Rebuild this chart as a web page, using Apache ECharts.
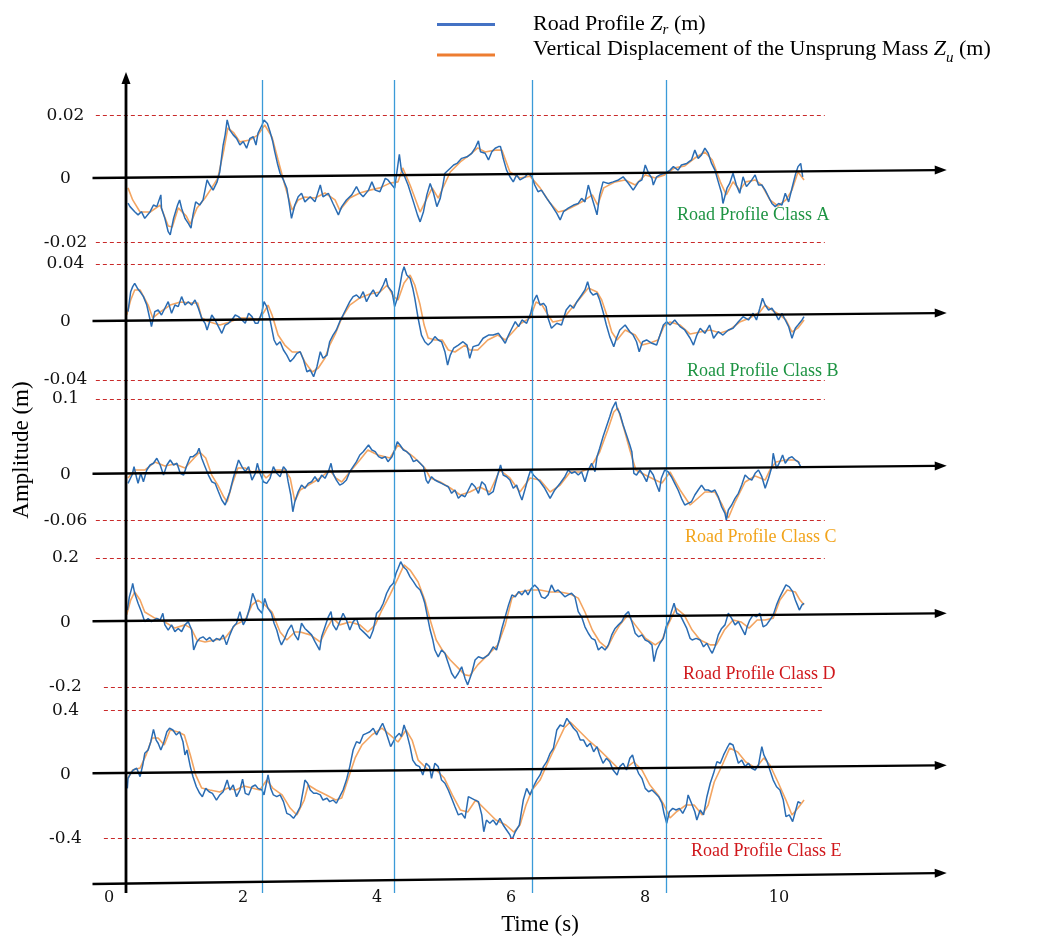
<!DOCTYPE html>
<html><head><meta charset="utf-8">
<script src="https://cdn.jsdelivr.net/npm/echarts@6.0.0/dist/echarts.min.js"></script>
<style>html,body{margin:0;padding:0;background:#fff}#c{width:1040px;height:938px}</style>
</head><body><div id="c"></div>
<script>
// ---------------- DATA (time in s, amplitude in m) ----------------
const roadA = [[0.03,-0.0076],[0.06,-0.0087],[0.13,-0.0103],[0.18,-0.0113],[0.23,-0.0103],[0.28,-0.0124],[0.36,-0.0103],[0.41,-0.0082],[0.46,-0.0087],[0.52,-0.005],[0.53,-0.0092],[0.58,-0.0124],[0.63,-0.0166],[0.66,-0.0176],[0.71,-0.0124],[0.77,-0.0082],[0.80,-0.0066],[0.83,-0.0092],[0.88,-0.0124],[0.93,-0.014],[0.97,-0.0155],[1.00,-0.0113],[1.04,-0.0072],[1.10,-0.0082],[1.15,-0.0066],[1.21,-0.0003],[1.25,-0.0019],[1.30,-0.0035],[1.36,-0.0009],[1.40,0.0023],[1.45,0.0107],[1.48,0.0139],[1.51,0.0186],[1.55,0.0154],[1.60,0.0139],[1.65,0.0128],[1.70,0.0107],[1.75,0.0118],[1.80,0.0097],[1.85,0.0128],[1.90,0.0133],[1.94,0.0107],[1.97,0.0144],[2.03,0.017],[2.06,0.0186],[2.11,0.0175],[2.15,0.0149],[2.19,0.0118],[2.22,0.0086],[2.26,0.0049],[2.30,0.0018],[2.35,-0.0003],[2.40,-0.0029],[2.44,-0.0082],[2.47,-0.0124],[2.52,-0.0082],[2.57,-0.0056],[2.62,-0.0045],[2.67,-0.0072],[2.75,-0.0056],[2.82,-0.0072],[2.90,-0.0019],[2.94,-0.0056],[3.02,-0.0045],[3.09,-0.0077],[3.17,-0.0113],[3.22,-0.0087],[3.29,-0.0066],[3.37,-0.005],[3.44,-0.0024],[3.49,-0.0045],[3.54,-0.0056],[3.62,-0.0035],[3.67,-0.0009],[3.72,-0.0035],[3.79,-0.004],[3.87,0.0002],[3.91,-0.0003],[3.97,-0.0019],[4.01,-0.0029],[4.08,0.0078],[4.11,0.0028],[4.16,0.0007],[4.21,-0.0019],[4.29,-0.0072],[4.35,-0.0113],[4.39,-0.0135],[4.44,-0.0103],[4.49,-0.005],[4.54,-0.0014],[4.59,-0.0045],[4.64,-0.0087],[4.69,-0.0061],[4.73,-0.0019],[4.76,0.0018],[4.84,0.0034],[4.89,0.0044],[4.94,0.0049],[5.01,0.0065],[5.09,0.007],[5.16,0.0081],[5.21,0.0097],[5.26,0.012],[5.29,0.0086],[5.36,0.0081],[5.41,0.006],[5.46,0.0086],[5.51,0.0097],[5.56,0.0102],[5.59,0.0102],[5.63,0.0065],[5.68,0.0028],[5.73,0.0007],[5.78,-0.0009],[5.83,0.0013],[5.88,-0.0003],[5.96,0.0007],[6.00,0.0018],[6.06,0.0007],[6.10,-0.0019],[6.15,-0.004],[6.20,-0.0035],[6.28,-0.0061],[6.35,-0.0082],[6.43,-0.0108],[6.48,-0.0129],[6.53,-0.0103],[6.60,-0.0092],[6.68,-0.0082],[6.75,-0.0077],[6.80,-0.0061],[6.85,-0.0072],[6.90,-0.0019],[6.95,-0.0056],[7.03,-0.0113],[7.07,-0.005],[7.12,-0.0009],[7.20,-0.0014],[7.27,-0.0009],[7.35,-0.0003],[7.42,0.0007],[7.50,-0.0014],[7.57,-0.0035],[7.65,-0.0009],[7.70,-0.0003],[7.75,0.0044],[7.80,0.0018],[7.85,0.0002],[7.87,-0.0019],[7.92,0.0007],[7.97,0.0013],[8.04,0.0018],[8.12,0.0028],[8.17,0.0039],[8.24,0.0028],[8.29,0.0044],[8.37,0.0049],[8.44,0.006],[8.49,0.0091],[8.54,0.0065],[8.59,0.0076],[8.64,0.0097],[8.69,0.0081],[8.74,0.0049],[8.79,0.0028],[8.84,-0.0009],[8.89,-0.0045],[8.91,-0.0077],[8.97,-0.0029],[9.01,-0.0014],[9.06,0.0018],[9.11,-0.0019],[9.16,-0.0045],[9.21,0.0007],[9.26,-0.0024],[9.34,-0.0003],[9.39,0.0013],[9.44,-0.0019],[9.49,-0.0019],[9.54,-0.0035],[9.59,-0.0056],[9.64,-0.0077],[9.69,-0.0087],[9.74,-0.0077],[9.79,-0.0082],[9.84,-0.0045],[9.89,-0.0072],[9.94,-0.0029],[9.99,0.0013],[10.03,0.0039],[10.07,0.0049],[10.10,0.0007]];
const unsprungA = [[0.03,-0.0028],[0.10,-0.0066],[0.21,-0.0104],[0.36,-0.0104],[0.51,-0.0082],[0.63,-0.0148],[0.69,-0.0151],[0.78,-0.0091],[0.90,-0.0117],[0.96,-0.0142],[1.06,-0.0091],[1.18,-0.006],[1.28,-0.0028],[1.37,0.0003],[1.46,0.0091],[1.52,0.0161],[1.61,0.0145],[1.70,0.0117],[1.85,0.0123],[1.97,0.0139],[2.07,0.017],[2.18,0.0132],[2.27,0.006],[2.37,-0.0019],[2.48,-0.0098],[2.57,-0.0066],[2.67,-0.0057],[2.82,-0.006],[2.97,-0.0044],[3.12,-0.0066],[3.19,-0.0098],[3.34,-0.006],[3.49,-0.0044],[3.64,-0.0035],[3.79,-0.0028],[3.94,-0.0013],[4.06,-0.0009],[4.13,0.0035],[4.24,-0.0019],[4.39,-0.0104],[4.48,-0.0066],[4.57,-0.0028],[4.66,-0.006],[4.75,-0.0019],[4.84,0.0022],[4.99,0.0054],[5.13,0.0076],[5.25,0.0098],[5.36,0.0085],[5.51,0.0091],[5.61,0.0091],[5.73,0.0022],[5.88,0.0003],[6.03,0.0009],[6.18,-0.0028],[6.33,-0.0076],[6.45,-0.0104],[6.57,-0.0098],[6.72,-0.0082],[6.85,-0.0066],[6.96,-0.005],[7.04,-0.0082],[7.13,-0.0028],[7.30,-0.0009],[7.45,-0.0003],[7.60,-0.0019],[7.75,0.0013],[7.90,0.0003],[8.04,0.0013],[8.19,0.0035],[8.34,0.0041],[8.49,0.0066],[8.64,0.0085],[8.75,0.006],[8.87,-0.0009],[8.96,-0.005],[9.06,-0.0009],[9.16,-0.0035],[9.25,-0.0009],[9.39,-0.0003],[9.49,-0.0019],[9.61,-0.0066],[9.73,-0.0085],[9.85,-0.0066],[9.94,-0.0035],[10.03,0.0022],[10.12,-0.0003]];

const roadB = [[0.03,0.0071],[0.07,0.0209],[0.10,0.0244],[0.13,0.0267],[0.17,0.0233],[0.21,0.0209],[0.26,0.0175],[0.31,0.0117],[0.36,0.0014],[0.38,-0.0032],[0.43,0.0071],[0.48,0.0083],[0.53,0.0048],[0.58,0.0095],[0.63,0.014],[0.68,0.006],[0.73,0.0117],[0.78,0.0106],[0.83,0.0175],[0.88,0.0117],[0.93,0.014],[0.98,0.0117],[1.03,0.0152],[1.08,0.0095],[1.13,0.0026],[1.18,-0.0009],[1.21,-0.0055],[1.28,0.0048],[1.33,0.0014],[1.38,-0.0032],[1.43,-0.0078],[1.48,-0.0021],[1.53,-0.0009],[1.58,0.0014],[1.63,0.0048],[1.68,0.0037],[1.73,0.0014],[1.78,-0.0009],[1.83,0.006],[1.88,0.0037],[1.93,-0.0009],[1.97,-0.0009],[2.03,0.0071],[2.06,0.014],[2.10,0.0106],[2.14,0.0037],[2.17,-0.0032],[2.21,-0.0124],[2.25,-0.0159],[2.30,-0.0136],[2.35,-0.0193],[2.40,-0.0228],[2.45,-0.0274],[2.50,-0.025],[2.55,-0.0216],[2.60,-0.0205],[2.65,-0.0262],[2.70,-0.0343],[2.75,-0.0331],[2.80,-0.0377],[2.85,-0.0308],[2.90,-0.0205],[2.94,-0.025],[3.00,-0.0228],[3.04,-0.0136],[3.09,-0.009],[3.14,-0.0055],[3.19,0.0002],[3.24,0.0048],[3.29,0.0095],[3.34,0.014],[3.39,0.0175],[3.44,0.0186],[3.49,0.0164],[3.54,0.0209],[3.59,0.014],[3.64,0.0186],[3.69,0.0221],[3.74,0.0175],[3.79,0.0209],[3.84,0.0255],[3.88,0.0302],[3.91,0.0244],[3.97,0.0209],[4.01,0.0106],[4.05,0.0164],[4.09,0.0255],[4.12,0.0336],[4.15,0.0382],[4.19,0.0324],[4.24,0.0302],[4.28,0.0233],[4.31,0.0164],[4.36,0.0026],[4.41,-0.009],[4.46,-0.0136],[4.51,-0.0159],[4.56,-0.0136],[4.61,-0.0101],[4.66,-0.0124],[4.71,-0.0136],[4.76,-0.0205],[4.80,-0.0297],[4.84,-0.0228],[4.89,-0.0181],[4.96,-0.0159],[5.03,-0.0136],[5.09,-0.0159],[5.13,-0.025],[5.18,-0.017],[5.26,-0.0159],[5.33,-0.0112],[5.41,-0.009],[5.48,-0.009],[5.56,-0.0078],[5.61,-0.0112],[5.66,-0.0147],[5.71,-0.009],[5.76,-0.0043],[5.81,0.0002],[5.86,-0.0032],[5.91,0.0014],[5.98,-0.0009],[6.04,0.006],[6.08,0.014],[6.13,0.0186],[6.18,0.0117],[6.23,0.0129],[6.27,0.0106],[6.30,0.0026],[6.35,-0.0043],[6.43,-0.0009],[6.50,-0.0021],[6.57,0.0083],[6.63,0.0117],[6.68,0.0095],[6.73,0.014],[6.80,0.0186],[6.85,0.0221],[6.89,0.0278],[6.93,0.0209],[6.97,0.0186],[7.03,0.0198],[7.07,0.0152],[7.12,0.0071],[7.17,-0.0021],[7.22,-0.0101],[7.28,-0.017],[7.32,-0.0112],[7.37,-0.0055],[7.45,-0.0021],[7.52,-0.0067],[7.57,-0.009],[7.62,-0.0136],[7.66,-0.0205],[7.71,-0.0136],[7.77,-0.0124],[7.85,-0.0147],[7.92,-0.0159],[7.97,-0.009],[8.02,-0.0021],[8.07,0.0002],[8.12,-0.0021],[8.19,0.0014],[8.27,-0.0032],[8.34,-0.0055],[8.42,-0.0112],[8.47,-0.0159],[8.52,-0.009],[8.57,-0.0043],[8.64,-0.0078],[8.71,-0.0021],[8.77,-0.0112],[8.84,-0.0067],[8.91,-0.009],[8.99,-0.0055],[9.06,-0.0043],[9.14,0.0002],[9.21,0.0037],[9.29,0.0014],[9.36,0.006],[9.41,0.0014],[9.46,0.0095],[9.50,0.0164],[9.54,0.0117],[9.59,0.0083],[9.64,0.0095],[9.69,0.006],[9.74,0.0014],[9.79,0.006],[9.84,0.0014],[9.89,-0.0032],[9.94,-0.0112],[9.99,-0.0043],[10.03,-0.0021],[10.09,0.0014],[10.12,0.0037]];
const unsprungB = [[0.01,0.0048],[0.07,0.0152],[0.13,0.0221],[0.21,0.0221],[0.33,0.0117],[0.40,0.0028],[0.51,0.0069],[0.66,0.0117],[0.81,0.0138],[0.96,0.0131],[1.07,0.0131],[1.13,0.0028],[1.25,0],[1.40,-0.0021],[1.55,0],[1.70,0.0028],[1.85,0.0028],[1.97,0.0014],[2.06,0.0069],[2.12,0.0117],[2.18,0.0048],[2.27,-0.009],[2.37,-0.0159],[2.48,-0.0207],[2.60,-0.0207],[2.67,-0.0276],[2.78,-0.0345],[2.87,-0.0317],[2.97,-0.0248],[3.04,-0.0159],[3.13,-0.0076],[3.22,0.0028],[3.34,0.0117],[3.49,0.0166],[3.64,0.0193],[3.79,0.0207],[3.90,0.0255],[3.99,0.0179],[4.06,0.0152],[4.15,0.0269],[4.24,0.0324],[4.31,0.0255],[4.39,0.0117],[4.45,-0.0021],[4.51,-0.011],[4.61,-0.0124],[4.72,-0.0124],[4.81,-0.0193],[4.91,-0.0207],[5.06,-0.0159],[5.13,-0.0193],[5.25,-0.0193],[5.40,-0.0124],[5.55,-0.009],[5.66,-0.0124],[5.76,-0.0076],[5.88,-0.0014],[6.03,0.0028],[6.12,0.0138],[6.21,0.0117],[6.30,0.0048],[6.37,0],[6.51,0.0014],[6.63,0.0083],[6.78,0.0166],[6.90,0.0235],[7.03,0.0207],[7.10,0.0152],[7.19,0.0028],[7.25,-0.0069],[7.33,-0.0124],[7.45,-0.0055],[7.60,-0.009],[7.70,-0.0159],[7.82,-0.0145],[7.94,-0.0124],[8.03,-0.0028],[8.12,0],[8.27,-0.0021],[8.42,-0.0083],[8.57,-0.0069],[8.72,-0.0055],[8.87,-0.0076],[9.01,-0.0055],[9.16,0],[9.31,0.0028],[9.46,0.0069],[9.54,0.0117],[9.64,0.0083],[9.76,0.0048],[9.85,0.0014],[9.94,-0.0069],[10.03,-0.0041],[10.12,0.0014]];

const roadC = [[0.03,-0.0112],[0.09,-0.0003],[0.12,0.0107],[0.16,-0.0046],[0.18,-0.0112],[0.22,0.002],[0.26,-0.0091],[0.31,0.0063],[0.36,0.0129],[0.41,0.0152],[0.46,0.0218],[0.51,0.0129],[0.56,-0.0003],[0.61,0.0129],[0.66,0.0195],[0.71,0.0129],[0.76,0.0152],[0.81,0.002],[0.86,-0.0003],[0.91,0.0129],[0.96,0.0239],[1.00,0.0239],[1.06,0.0284],[1.09,0.035],[1.13,0.0218],[1.18,0.0107],[1.23,-0.0003],[1.28,-0.0091],[1.33,-0.0112],[1.38,-0.0223],[1.43,-0.0332],[1.48,-0.0398],[1.50,-0.0376],[1.55,-0.0223],[1.60,-0.0046],[1.65,0.0107],[1.68,0.0195],[1.73,0.0107],[1.78,0.0041],[1.83,0.0107],[1.88,-0.0069],[1.93,0.002],[1.96,0.0152],[2.00,0.002],[2.05,-0.0091],[2.10,-0.0112],[2.15,-0.0046],[2.20,0.0107],[2.25,0.002],[2.30,-0.0025],[2.35,0.0107],[2.39,0.0063],[2.42,-0.0091],[2.46,-0.0266],[2.49,-0.0487],[2.52,-0.0355],[2.57,-0.0223],[2.62,-0.0135],[2.67,-0.0178],[2.72,-0.0112],[2.77,-0.0091],[2.82,-0.0025],[2.87,-0.0091],[2.92,-0.0003],[2.97,-0.0046],[3.02,0.0041],[3.06,0.0152],[3.09,0.002],[3.14,-0.0069],[3.19,-0.0135],[3.24,-0.0112],[3.29,-0.0069],[3.34,0.0041],[3.39,0.0107],[3.44,0.0173],[3.49,0.0261],[3.54,0.0305],[3.62,0.0393],[3.67,0.0327],[3.72,0.0305],[3.77,0.0239],[3.82,0.0218],[3.87,0.0239],[3.91,0.0173],[3.97,0.0239],[4.01,0.0327],[4.05,0.0437],[4.09,0.0393],[4.14,0.0327],[4.19,0.0305],[4.24,0.0261],[4.29,0.0173],[4.34,0.0195],[4.39,0.0152],[4.44,0.0107],[4.48,-0.0069],[4.51,-0.0112],[4.56,-0.0025],[4.61,-0.0069],[4.66,-0.0091],[4.71,-0.0112],[4.76,-0.0135],[4.81,-0.0157],[4.86,-0.0244],[4.91,-0.02],[4.96,-0.031],[5.01,-0.0266],[5.06,-0.0289],[5.11,-0.02],[5.16,-0.0112],[5.21,-0.0157],[5.26,-0.0244],[5.31,-0.0091],[5.36,-0.0135],[5.41,-0.0266],[5.48,-0.0223],[5.54,-0.0025],[5.59,0.0129],[5.63,-0.0003],[5.68,-0.0025],[5.73,-0.0069],[5.78,-0.0178],[5.83,-0.0135],[5.88,-0.0266],[5.91,-0.0332],[5.96,-0.0178],[6.00,-0.0046],[6.04,0.0063],[6.08,-0.0003],[6.13,-0.0046],[6.18,-0.0091],[6.25,-0.0178],[6.33,-0.031],[6.40,-0.02],[6.48,-0.0112],[6.55,-0.0025],[6.60,0.0063],[6.65,0.002],[6.70,0.0041],[6.75,-0.0003],[6.80,0.0041],[6.85,-0.0091],[6.90,0.0063],[6.95,0.0152],[7.00,0.0041],[7.03,0.0239],[7.07,0.035],[7.12,0.0503],[7.17,0.0634],[7.22,0.0766],[7.26,0.0877],[7.31,0.0964],[7.33,0.0877],[7.37,0.0811],[7.42,0.0657],[7.47,0.0525],[7.52,0.0393],[7.55,0.0305],[7.58,0.002],[7.62,-0.0003],[7.67,0.0063],[7.72,-0.0003],[7.77,-0.0091],[7.82,0.0063],[7.87,-0.0003],[7.92,-0.0135],[7.96,-0.0223],[7.99,-0.0046],[8.04,0.0063],[8.09,0.0041],[8.14,-0.0025],[8.19,-0.0112],[8.24,-0.02],[8.29,-0.031],[8.34,-0.0398],[8.39,-0.0376],[8.44,-0.0355],[8.49,-0.0266],[8.54,-0.02],[8.59,-0.0135],[8.64,-0.02],[8.69,-0.02],[8.74,-0.0223],[8.79,-0.02],[8.84,-0.0289],[8.89,-0.0421],[8.94,-0.0508],[8.96,-0.0596],[8.99,-0.0464],[9.04,-0.0398],[9.09,-0.031],[9.14,-0.0244],[9.19,-0.0135],[9.24,-0.0003],[9.29,-0.0046],[9.34,-0.0069],[9.39,0.002],[9.44,0.0063],[9.49,-0.0025],[9.54,-0.0178],[9.59,-0.0046],[9.64,0.0107],[9.66,0.0284],[9.71,0.0086],[9.76,0.0173],[9.80,0.0261],[9.84,0.0152],[9.89,0.0218],[9.94,0.0239],[9.99,0.0195],[10.03,0.0173],[10.07,0.0107]];
const unsprungC = [[0.03,-0.0042],[0.13,0.0063],[0.28,0.0063],[0.43,0.0169],[0.58,0.0116],[0.73,0.0142],[0.88,0.009],[0.99,0.0195],[1.10,0.0301],[1.19,0.0222],[1.28,-0.0003],[1.37,-0.0135],[1.46,-0.0293],[1.51,-0.0359],[1.58,-0.0135],[1.67,0.009],[1.78,0.009],[1.88,0.0037],[2.00,0.0063],[2.09,-0.0042],[2.22,0.0063],[2.37,0.0063],[2.45,-0.0042],[2.52,-0.0346],[2.60,-0.02],[2.75,-0.0121],[2.90,-0.0042],[3.04,0.0063],[3.13,-0.0042],[3.22,-0.0095],[3.34,0.0037],[3.49,0.0195],[3.61,0.0327],[3.76,0.0261],[3.94,0.0222],[4.06,0.0393],[4.16,0.0327],[4.31,0.0222],[4.46,0.009],[4.54,-0.0042],[4.69,-0.0095],[4.84,-0.0174],[4.99,-0.0266],[5.13,-0.0227],[5.28,-0.0161],[5.43,-0.0227],[5.58,0.0063],[5.73,-0.0042],[5.88,-0.0227],[6.03,-0.0042],[6.18,-0.0069],[6.33,-0.0227],[6.48,-0.0135],[6.63,0.0037],[6.78,0.0037],[6.93,0.009],[7.07,0.0301],[7.19,0.0591],[7.28,0.0828],[7.34,0.0881],[7.43,0.0617],[7.52,0.0327],[7.61,0.0063],[7.75,-0.0003],[7.90,-0.0069],[8.00,-0.0108],[8.12,0.0037],[8.27,-0.02],[8.42,-0.0398],[8.54,-0.0306],[8.64,-0.0227],[8.79,-0.0227],[8.90,-0.0398],[8.99,-0.057],[9.09,-0.0359],[9.24,-0.0095],[9.39,-0.0016],[9.54,-0.0069],[9.61,0.0063],[9.70,0.0169],[9.84,0.0195],[9.99,0.0195],[10.06,0.0156]];

const roadD = [[0.02,0.038],[0.05,0.079],[0.09,0.110],[0.10,0.121],[0.13,0.090],[0.18,0.059],[0.23,0.033],[0.28,0.002],[0.33,0.012],[0.38,0.002],[0.46,0.012],[0.51,0.007],[0.55,0.028],[0.58,-0.008],[0.63,-0.024],[0.68,-0.008],[0.73,-0.029],[0.78,-0.019],[0.83,-0.029],[0.88,-0.008],[0.93,0.002],[0.98,-0.024],[1.01,-0.086],[1.06,-0.060],[1.10,-0.050],[1.15,-0.045],[1.20,-0.055],[1.25,-0.047],[1.30,-0.060],[1.35,-0.050],[1.40,-0.055],[1.45,-0.039],[1.50,-0.070],[1.55,-0.039],[1.60,-0.014],[1.65,-0.003],[1.70,0.033],[1.75,-0.008],[1.80,0.012],[1.85,0.048],[1.89,0.090],[1.93,0.069],[1.97,0.043],[2.03,0.028],[2.07,0.074],[2.12,0.043],[2.17,0.028],[2.21,-0.003],[2.25,-0.024],[2.29,-0.055],[2.32,-0.070],[2.37,-0.050],[2.42,-0.024],[2.47,-0.008],[2.52,-0.039],[2.57,-0.055],[2.62,-0.003],[2.67,-0.019],[2.72,-0.029],[2.77,-0.039],[2.82,-0.060],[2.89,-0.086],[2.92,-0.045],[2.97,-0.014],[3.02,0.017],[3.06,0.033],[3.09,-0.008],[3.14,-0.024],[3.19,0.002],[3.24,0.028],[3.29,0.007],[3.34,-0.024],[3.39,0.002],[3.44,0.012],[3.49,-0.019],[3.54,-0.029],[3.59,-0.039],[3.64,-0.050],[3.69,-0.024],[3.74,0.028],[3.79,0.038],[3.84,0.059],[3.89,0.090],[3.94,0.110],[3.99,0.121],[4.03,0.152],[4.06,0.167],[4.10,0.188],[4.14,0.172],[4.19,0.162],[4.24,0.141],[4.29,0.126],[4.34,0.110],[4.39,0.100],[4.43,0.079],[4.46,0.059],[4.50,0.017],[4.54,-0.024],[4.58,-0.055],[4.61,-0.086],[4.66,-0.107],[4.71,-0.086],[4.76,-0.096],[4.81,-0.127],[4.86,-0.158],[4.91,-0.174],[4.96,-0.158],[5.01,-0.138],[5.06,-0.174],[5.10,-0.194],[5.16,-0.158],[5.21,-0.117],[5.26,-0.107],[5.33,-0.112],[5.41,-0.101],[5.48,-0.076],[5.53,-0.086],[5.57,-0.055],[5.61,-0.019],[5.66,0.017],[5.71,0.054],[5.76,0.085],[5.81,0.079],[5.86,0.095],[5.91,0.085],[5.96,0.100],[6.00,0.085],[6.05,0.105],[6.10,0.116],[6.15,0.105],[6.20,0.079],[6.25,0.074],[6.30,0.085],[6.35,0.116],[6.40,0.095],[6.45,0.100],[6.50,0.090],[6.55,0.079],[6.60,0.085],[6.65,0.090],[6.70,0.079],[6.75,0.033],[6.80,0.017],[6.85,-0.014],[6.90,-0.034],[6.95,-0.050],[7.00,-0.055],[7.05,-0.086],[7.10,-0.076],[7.15,-0.086],[7.20,-0.070],[7.25,-0.039],[7.30,-0.019],[7.35,-0.008],[7.40,0.002],[7.45,0.023],[7.50,0.033],[7.55,0.002],[7.60,-0.034],[7.65,-0.045],[7.70,-0.039],[7.75,-0.055],[7.80,-0.060],[7.85,-0.070],[7.88,-0.122],[7.92,-0.086],[7.97,-0.065],[8.02,-0.050],[8.06,-0.014],[8.11,0.007],[8.14,0.033],[8.18,0.059],[8.22,0.028],[8.27,0.023],[8.32,0.002],[8.37,-0.019],[8.42,-0.050],[8.45,-0.055],[8.51,-0.050],[8.57,-0.055],[8.62,-0.076],[8.67,-0.065],[8.72,-0.086],[8.75,-0.096],[8.79,-0.076],[8.84,-0.039],[8.89,-0.019],[8.94,-0.008],[8.99,0.028],[9.04,0.012],[9.09,-0.008],[9.14,0.002],[9.19,-0.019],[9.24,-0.039],[9.27,-0.014],[9.31,0.007],[9.36,0.023],[9.41,0.017],[9.46,0.028],[9.51,-0.014],[9.56,-0.008],[9.61,0.007],[9.66,0.023],[9.71,0.054],[9.76,0.079],[9.81,0.100],[9.85,0.116],[9.90,0.110],[9.95,0.095],[9.99,0.069],[10.02,0.054],[10.05,0.038],[10.09,0.054],[10.12,0.059]];
const unsprungD = [[0.01,0.023],[0.07,0.069],[0.13,0.094],[0.21,0.069],[0.28,0.032],[0.43,0.013],[0.58,0.001],[0.73,-0.018],[0.88,-0.008],[0.97,-0.018],[1.06,-0.055],[1.18,-0.061],[1.33,-0.055],[1.48,-0.049],[1.63,-0.008],[1.78,0.007],[1.88,0.054],[1.97,0.069],[2.07,0.054],[2.18,0.032],[2.30,-0.030],[2.40,-0.055],[2.52,-0.030],[2.60,-0.030],[2.75,-0.039],[2.90,-0.061],[3.00,-0.018],[3.09,0.013],[3.19,-0.008],[3.34,0.001],[3.49,-0.008],[3.61,-0.030],[3.72,-0.008],[3.82,0.038],[3.94,0.085],[4.06,0.137],[4.15,0.178],[4.24,0.162],[4.36,0.125],[4.46,0.069],[4.54,0.007],[4.63,-0.055],[4.72,-0.086],[4.84,-0.117],[4.96,-0.142],[5.06,-0.163],[5.13,-0.166],[5.25,-0.132],[5.40,-0.101],[5.55,-0.070],[5.66,-0.008],[5.76,0.075],[5.88,0.094],[6.03,0.100],[6.18,0.100],[6.33,0.094],[6.48,0.094],[6.63,0.088],[6.75,0.075],[6.85,0.032],[6.96,-0.024],[7.07,-0.061],[7.18,-0.080],[7.28,-0.039],[7.37,-0.008],[7.49,0.023],[7.60,-0.008],[7.75,-0.049],[7.90,-0.070],[8.00,-0.055],[8.09,-0.008],[8.21,0.044],[8.33,0.023],[8.45,-0.024],[8.57,-0.055],[8.72,-0.070],[8.81,-0.070],[8.93,-0.024],[9.06,0.007],[9.18,0.001],[9.30,-0.018],[9.42,0.007],[9.54,0.007],[9.66,0.013],[9.76,0.069],[9.87,0.100],[9.99,0.094],[10.06,0.069],[10.12,0.054]];

const roadE = [[0.02,-0.088],[0.03,-0.025],[0.07,0.006],[0.11,0.027],[0.16,0.038],[0.21,-0.015],[0.25,0.058],[0.28,0.131],[0.33,0.152],[0.37,0.204],[0.41,0.281],[0.45,0.214],[0.48,0.194],[0.52,0.152],[0.56,0.194],[0.61,0.266],[0.65,0.288],[0.70,0.277],[0.75,0.246],[0.80,0.266],[0.85,0.204],[0.88,0.121],[0.91,0.152],[0.96,0.048],[1.00,-0.015],[1.05,-0.078],[1.10,-0.119],[1.14,-0.140],[1.19,-0.088],[1.24,-0.109],[1.29,-0.119],[1.35,-0.161],[1.40,-0.129],[1.45,-0.109],[1.51,-0.036],[1.55,-0.098],[1.60,-0.067],[1.65,-0.140],[1.70,-0.098],[1.74,-0.031],[1.78,-0.119],[1.83,-0.129],[1.88,-0.078],[1.93,-0.067],[1.97,-0.088],[2.03,-0.098],[2.06,-0.129],[2.10,-0.046],[2.12,-0.004],[2.16,-0.088],[2.20,-0.129],[2.25,-0.140],[2.30,-0.129],[2.35,-0.171],[2.40,-0.244],[2.45,-0.254],[2.50,-0.275],[2.55,-0.244],[2.60,-0.203],[2.65,-0.088],[2.67,-0.036],[2.71,-0.056],[2.75,-0.098],[2.80,-0.119],[2.85,-0.119],[2.90,-0.129],[2.94,-0.161],[3.00,-0.150],[3.04,-0.171],[3.09,-0.161],[3.14,-0.181],[3.19,-0.140],[3.24,-0.098],[3.29,-0.036],[3.34,0.048],[3.39,0.152],[3.44,0.204],[3.49,0.194],[3.54,0.246],[3.59,0.256],[3.64,0.266],[3.69,0.288],[3.74,0.246],[3.79,0.288],[3.83,0.319],[3.87,0.277],[3.91,0.225],[3.95,0.173],[3.99,0.204],[4.03,0.235],[4.08,0.256],[4.11,0.235],[4.15,0.308],[4.19,0.256],[4.24,0.173],[4.28,0.089],[4.33,0.058],[4.38,0.048],[4.43,-0.004],[4.48,0.069],[4.53,0.048],[4.56,-0.025],[4.61,0.069],[4.66,0.048],[4.71,-0.036],[4.76,-0.056],[4.81,-0.098],[4.86,-0.150],[4.91,-0.203],[4.96,-0.254],[5.01,-0.244],[5.06,-0.275],[5.11,-0.140],[5.13,-0.150],[5.21,-0.161],[5.26,-0.171],[5.31,-0.254],[5.34,-0.359],[5.38,-0.286],[5.43,-0.306],[5.48,-0.286],[5.53,-0.317],[5.58,-0.275],[5.63,-0.317],[5.68,-0.348],[5.73,-0.379],[5.76,-0.411],[5.81,-0.359],[5.87,-0.317],[5.93,-0.161],[5.98,-0.088],[6.03,-0.129],[6.08,-0.078],[6.13,-0.036],[6.18,-0.004],[6.23,0.048],[6.28,0.079],[6.33,0.131],[6.38,0.163],[6.43,0.277],[6.48,0.308],[6.53,0.298],[6.58,0.350],[6.63,0.319],[6.68,0.288],[6.73,0.266],[6.78,0.214],[6.83,0.214],[6.88,0.173],[6.93,0.194],[6.98,0.141],[7.03,0.173],[7.07,0.121],[7.12,0.069],[7.17,0.100],[7.22,0.079],[7.27,0.027],[7.33,-0.004],[7.37,0.048],[7.42,0.069],[7.47,0.027],[7.52,0.100],[7.56,0.121],[7.60,0.058],[7.65,0.006],[7.70,-0.025],[7.75,-0.088],[7.80,-0.109],[7.85,-0.098],[7.90,-0.119],[7.95,-0.140],[8.00,-0.181],[8.03,-0.244],[8.07,-0.306],[8.11,-0.234],[8.16,-0.213],[8.21,-0.223],[8.26,-0.213],[8.31,-0.244],[8.36,-0.203],[8.39,-0.129],[8.44,-0.181],[8.49,-0.234],[8.52,-0.286],[8.57,-0.223],[8.62,-0.254],[8.67,-0.140],[8.72,-0.056],[8.77,0.006],[8.82,0.079],[8.87,0.069],[8.92,0.121],[8.97,0.163],[9.01,0.194],[9.06,0.183],[9.09,0.141],[9.14,0.069],[9.19,0.089],[9.24,0.048],[9.29,0.069],[9.34,0.038],[9.39,0.027],[9.44,0.058],[9.49,0.173],[9.52,0.121],[9.57,0.079],[9.61,0.027],[9.66,-0.036],[9.71,-0.078],[9.76,-0.098],[9.81,-0.161],[9.85,-0.265],[9.90,-0.254],[9.95,-0.296],[9.99,-0.234],[10.03,-0.171],[10.07,-0.181]];
const unsprungE = [[0.03,-0.023],[0.10,0.027],[0.21,0.039],[0.30,0.121],[0.39,0.227],[0.48,0.227],[0.57,0.183],[0.66,0.277],[0.78,0.264],[0.87,0.246],[0.96,0.121],[1.04,-0.004],[1.13,-0.086],[1.25,-0.098],[1.40,-0.111],[1.52,-0.086],[1.64,-0.098],[1.76,-0.073],[1.88,-0.086],[2.00,-0.098],[2.10,-0.036],[2.19,-0.086],[2.33,-0.129],[2.45,-0.211],[2.55,-0.254],[2.66,-0.161],[2.72,-0.067],[2.84,-0.098],[2.99,-0.129],[3.13,-0.161],[3.22,-0.148],[3.31,-0.036],[3.42,0.102],[3.52,0.183],[3.67,0.246],[3.82,0.289],[3.94,0.246],[4.06,0.202],[4.18,0.277],[4.27,0.214],[4.36,0.089],[4.51,0.027],[4.63,0.027],[4.75,-0.023],[4.87,-0.129],[4.99,-0.223],[5.10,-0.236],[5.22,-0.161],[5.37,-0.223],[5.52,-0.286],[5.67,-0.317],[5.79,-0.361],[5.88,-0.317],[5.97,-0.192],[6.06,-0.098],[6.18,-0.036],[6.30,0.077],[6.42,0.183],[6.54,0.289],[6.63,0.327],[6.75,0.277],[6.90,0.214],[7.04,0.164],[7.19,0.102],[7.34,0.039],[7.46,0.039],[7.58,0.077],[7.70,0.027],[7.82,-0.067],[7.94,-0.129],[8.03,-0.192],[8.12,-0.273],[8.21,-0.236],[8.36,-0.192],[8.48,-0.192],[8.60,-0.254],[8.69,-0.192],[8.78,-0.048],[8.90,0.058],[9.01,0.164],[9.13,0.139],[9.25,0.077],[9.40,0.039],[9.52,0.102],[9.61,0.058],[9.73,-0.048],[9.85,-0.161],[9.94,-0.254],[10.03,-0.211],[10.12,-0.161]];

// tick labels
const ampTicksA = [-0.02, 0, 0.02];
const ampTicksB = [-0.04, 0, 0.04];
const ampTicksC = [-0.06, 0, 0.1];
const ampTicksD = [-0.2, 0, 0.2];
const ampTicksE = [-0.4, 0, 0.4];
const timeTicks = [0, 2, 4, 6, 8, 10];
// vertical marker times (s)
const markerTimes = [2.03, 4.01, 6.06, 8.06];
const classNames = ['Road Profile Class A','Road Profile Class B','Road Profile Class C','Road Profile Class D','Road Profile Class E'];

const NAME_ZR = 'Road Profile Zr (m)';
const NAME_ZU = 'Vertical Displacement of the Unsprung Mass Zu (m)';

// ---------------- LAYOUT / STYLE ----------------
const X_MIN = -0.5, X_MAX = 12.25, GRID_LEFT = 92.5, GRID_W = 854.25;
const LAYOUT = [
  {top:115.5, height:127,   dash:[-0.45,-0.45], color:'#1e9443', lx:677, ly:215},
  {top:264,   height:116,   dash:[-0.45,-0.45], color:'#1e9443', lx:687, ly:371},
  {top:399,   height:121.3, dash:[-0.45,-0.45], color:'#f2a41c', lx:685, ly:537},
  {top:557.8, height:129,   dash:[-0.45,-0.33], color:'#d0181c', lx:683, ly:674},
  {top:710.3, height:128,   dash:[-0.33,-0.33], color:'#d0181c', lx:691, ly:851}
];
const PANELS = [
  {road:roadA, mass:unsprungA, ticks:ampTicksA},
  {road:roadB, mass:unsprungB, ticks:ampTicksB},
  {road:roadC, mass:unsprungC, ticks:ampTicksC},
  {road:roadD, mass:unsprungD, ticks:ampTicksD},
  {road:roadE, mass:unsprungE, ticks:ampTicksE}
];
const TICK_FONT = '"DejaVu Serif", serif';
const SERIF = '"Liberation Serif", serif';
const BLUE = '#2a6cb3', ORANGE = '#f3a562';

const grids = [], xAxes = [], yAxes = [], series = [];
PANELS.forEach((p, i) => {
  const L = LAYOUT[i];
  const mn = p.ticks[0], mx = p.ticks[p.ticks.length - 1];
  grids.push({left:GRID_LEFT, width:GRID_W, top:L.top, height:L.height, outerBoundsMode:'none', containLabel:false});
  xAxes.push({type:'value', gridIndex:i, min:X_MIN, max:X_MAX, show:false});
  yAxes.push({type:'value', gridIndex:i, min:mn, max:mx,
    axisLine:{show:false}, axisTick:{show:false}, splitLine:{show:false},
    axisLabel:{customValues:p.ticks, showMinLabel:true, showMaxLabel:true, align:'center', verticalAlign:'middle', margin:27,
      padding:[7,0,0,0], fontFamily:TICK_FONT, fontSize:17, color:'#111', formatter: v => (v === 0 ? '0' : String(v))}});
  series.push({type:'line', name:NAME_ZU, xAxisIndex:i, yAxisIndex:i, data:p.mass, symbol:'none', smooth:false,
    color:ORANGE, itemStyle:{color:ORANGE}, lineStyle:{color:ORANGE, width:1.6}, z:2, silent:true, animation:false});
  series.push({type:'line', name:NAME_ZR, xAxisIndex:i, yAxisIndex:i, data:p.road, symbol:'none', smooth:false,
    color:BLUE, itemStyle:{color:BLUE}, lineStyle:{color:BLUE, width:1.5}, z:3, silent:true, animation:false,
    markLine:{silent:true, animation:false, symbol:['none','none'], label:{show:false},
      lineStyle:{color:'#c92a2a', width:1, type:[4,3]}, emphasis:{disabled:true},
      data:[[{coord:[L.dash[0], mx]},{coord:[10.43, mx]}],[{coord:[L.dash[1], mn]},{coord:[10.43, mn]}]]}});
});
// grid 5: time tick labels (labels sit slightly left of their instants, as in the figure)
grids.push({left:GRID_LEFT-17, width:GRID_W, top:850, height:34, outerBoundsMode:'none'});
xAxes.push({type:'value', gridIndex:5, min:X_MIN, max:X_MAX, axisLine:{show:false}, axisTick:{show:false}, splitLine:{show:false},
  axisLabel:{customValues:timeTicks, fontFamily:TICK_FONT, fontSize:16, color:'#111', margin:6}});
yAxes.push({type:'value', gridIndex:5, min:0, max:1, show:false});
// grid 6: frame for the vertical marker lines
grids.push({left:GRID_LEFT, width:GRID_W, top:80, height:813, outerBoundsMode:'none'});
xAxes.push({type:'value', gridIndex:6, min:X_MIN, max:X_MAX, show:false});
yAxes.push({type:'value', gridIndex:6, min:0, max:1, show:false});
series.push({type:'line', name:'markers', xAxisIndex:6, yAxisIndex:6, data:[[0,0]], symbol:'none', lineStyle:{opacity:0}, silent:true, z:8,
  markLine:{silent:true, animation:false, symbol:['none','none'], label:{show:false}, z:8,
    lineStyle:{color:'#3b9ad8', width:1.3, type:'solid'}, emphasis:{disabled:true},
    data: markerTimes.map(t => ({xAxis:t}))}});

const LG = {fontFamily:SERIF, fontSize:22, lineHeight:27, color:'#000'};
const option = {
  backgroundColor:'#fff',
  animation:false,
  grid:grids, xAxis:xAxes, yAxis:yAxes, series:series,
  legend:{
    left:432, top:8.5, orient:'vertical', icon:'rect', itemWidth:58, itemHeight:3, itemGap:0, selectedMode:false,
    data:[{name:NAME_ZR, itemStyle:{color:'#4472c4'}},
          {name:NAME_ZU, itemStyle:{color:'#ed7d31'}}],
    formatter: n => n === NAME_ZR ? '{p|Road Profile }{i|Z}{s|r}{t| (m)}'
                                  : '{p2|Vertical Displacement of the Unsprung Mass }{i2|Z}{s2|u}{t2| (m)}',
    textStyle:{color:'#000', fontFamily:SERIF, fontSize:22,
      rich:{
        p:Object.assign({}, LG, {padding:[0,0,0,33]}),
        i:Object.assign({}, LG, {fontStyle:'italic'}),
        s:{fontFamily:SERIF, fontSize:15, lineHeight:17, fontStyle:'italic', verticalAlign:'bottom', color:'#000'},
        t:Object.assign({}, LG),
        p2:Object.assign({}, LG, {padding:[0,0,12,33]}),
        i2:Object.assign({}, LG, {fontStyle:'italic', padding:[0,0,12,0]}),
        s2:{fontFamily:SERIF, fontSize:15, lineHeight:18, fontStyle:'italic', color:'#000', verticalAlign:'top', padding:[9,0,0,0]},
        t2:Object.assign({}, LG, {padding:[0,0,12,0]})
      }}
  }
};

const chart = echarts.init(document.getElementById('c'), null, {renderer:'canvas'});
chart.setOption(option);

// ----- decorations: axis arrows & text, placed through the chart's own coordinate conversion -----
function arrow(list, x1, y1, x2, y2, w) {
  const dx = x2 - x1, dy = y2 - y1, len = Math.hypot(dx, dy), ux = dx / len, uy = dy / len;
  const hl = 12, hw = 4.5, bx = x2 - ux * hl, by = y2 - uy * hl;
  list.push({type:'line', silent:true, z:20, shape:{x1:x1, y1:y1, x2:bx + ux, y2:by + uy}, style:{stroke:'#000', lineWidth:w}});
  list.push({type:'polygon', silent:true, z:20, shape:{points:[[x2, y2],[bx - uy * hw, by + ux * hw],[bx + uy * hw, by - ux * hw]]}, style:{fill:'#000'}});
}
const g = [];
for (let i = 0; i < 5; i++) {
  const a = chart.convertToPixel({gridIndex:i}, [X_MIN, 0]);
  const b = chart.convertToPixel({gridIndex:i}, [X_MAX, 0]);
  arrow(g, a[0], a[1] - 1, b[0], b[1] - 9, 2.4);
}
const y0 = chart.convertToPixel({gridIndex:6}, [0, 0]);
arrow(g, y0[0], 893, y0[0], 72, 2.8);
const bl = chart.convertToPixel({gridIndex:6}, [X_MIN, 0]);
const br = chart.convertToPixel({gridIndex:6}, [X_MAX, 0]);
arrow(g, bl[0], 884, br[0], 873, 2.4);
classNames.forEach((t, i) => {
  const L = LAYOUT[i];
  g.push({type:'text', silent:true, z:20, x:L.lx, y:L.ly,
    style:{text:t, fill:L.color, font:'18px "Liberation Serif"', textAlign:'left', textVerticalAlign:'middle', align:'left', verticalAlign:'middle'}});
});
g.push({type:'text', silent:true, z:20, x:22, y:450, rotation:Math.PI / 2,
  style:{text:'Amplitude (m)', fill:'#000', font:'23px "Liberation Serif"', textAlign:'center', textVerticalAlign:'middle', align:'center', verticalAlign:'middle'}});
g.push({type:'text', silent:true, z:20, x:540, y:925,
  style:{text:'Time (s)', fill:'#000', font:'23px "Liberation Serif"', textAlign:'center', textVerticalAlign:'middle', align:'center', verticalAlign:'middle'}});
chart.setOption({graphic:g});
</script></body></html>
